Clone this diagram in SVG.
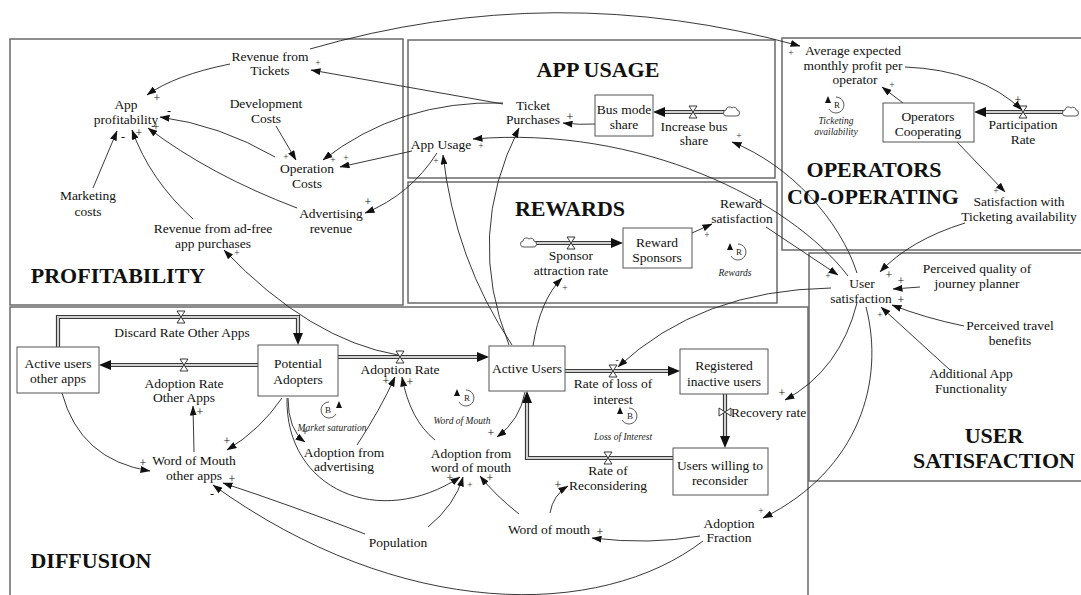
<svg xmlns="http://www.w3.org/2000/svg" width="1081" height="595" viewBox="0 0 1081 595">
<style>
.t{font-family:"Liberation Serif","Tinos","Times New Roman","DejaVu Serif",serif;font-size:13.5px;fill:#111;text-anchor:middle}
.h{font-family:"Liberation Serif","Tinos","Times New Roman","DejaVu Serif",serif;font-size:22px;font-weight:bold;fill:#111;text-anchor:middle}
.p{font-family:"Liberation Serif","Tinos","Times New Roman","DejaVu Serif",serif;font-size:12px;fill:#111;text-anchor:middle}
.ps{font-family:"Liberation Serif","Tinos","Times New Roman","DejaVu Serif",serif;font-size:9.5px;fill:#333;text-anchor:middle}
.li{font-family:"Liberation Serif","Tinos","Times New Roman","DejaVu Serif",serif;font-size:9.5px;font-style:italic;fill:#222;text-anchor:middle}
.ll{font-family:"Liberation Serif","Tinos","Times New Roman","DejaVu Serif",serif;font-size:9px;fill:#222;text-anchor:middle}
.panel{fill:none;stroke:#6a6a6a;stroke-width:1.5}
.box{fill:#fff;stroke:#555;stroke-width:1}
.c{fill:none;stroke:#222;stroke-width:0.9;marker-end:url(#a)}
.po{fill:none;stroke:#3a3a3a;stroke-width:4.2;stroke-linejoin:miter}
.pi{fill:none;stroke:#d0d0d0;stroke-width:2;stroke-linejoin:miter}
.v{fill:#fff;stroke:#222;stroke-width:0.9}
.cl{fill:#fff;stroke:#444;stroke-width:0.9}
.lc{fill:none;stroke:#333;stroke-width:0.8}
</style>
<defs>
<marker id="a" viewBox="0 0 10 7" refX="9.5" refY="3.5" markerWidth="10" markerHeight="7" markerUnits="userSpaceOnUse" orient="auto"><path d="M0,0 L10,3.5 L0,7 z" fill="#111"/></marker>
</defs>
<rect width="1081" height="595" fill="#fff"/>

<g id="panels">
<rect class="panel" x="10" y="39" width="393" height="266"/>
<rect class="panel" x="408" y="40" width="367" height="138"/>
<rect class="panel" x="408" y="182" width="369" height="121"/>
<rect class="panel" x="782" y="38" width="302" height="212"/>
<rect class="panel" x="809" y="253" width="275" height="228"/>
<path class="panel" d="M10,600 V307 H808 V600"/>
<text class="h" x="118" y="283">PROFITABILITY</text>
<text class="h" x="598" y="77">APP USAGE</text>
<text class="h" x="570" y="216">REWARDS</text>
<text class="h" x="874" y="177">OPERATORS</text>
<text class="h" x="873" y="204">CO-OPERATING</text>
<text class="h" x="994" y="443">USER</text>
<text class="h" x="994" y="468">SATISFACTION</text>
<text class="h" x="91" y="568">DIFFUSION</text>
</g>

<g id="flows">
<path class="po" d="M726,112 H662"/><path class="pi" d="M726,112 H662"/>
<polygon points="653,112 665,107 665,117" fill="#111"/>
<path class="po" d="M1066,112 H986"/><path class="pi" d="M1066,112 H986"/>
<polygon points="974,112 986,107 986,117" fill="#111"/>
<path class="po" d="M535,243 H612"/><path class="pi" d="M535,243 H612"/>
<polygon points="623,243 611,238 611,248" fill="#111"/>
<path class="po" d="M58,347 V317 H298 V334"/><path class="pi" d="M58,347 V317 H298 V334"/>
<polygon points="298,345 293,333 303,333" fill="#111"/>
<path class="po" d="M258,365 H111"/><path class="pi" d="M258,365 H111"/>
<polygon points="99,365 111,360 111,370" fill="#111"/>
<path class="po" d="M338,357 H477"/><path class="pi" d="M338,357 H477"/>
<polygon points="489,357 477,352 477,362" fill="#111"/>
<path class="po" d="M565,371 H668"/><path class="pi" d="M565,371 H668"/>
<polygon points="680,371 668,366 668,376" fill="#111"/>
<path class="po" d="M725,394 V436"/><path class="pi" d="M725,394 V436"/>
<polygon points="725,448 720,436 730,436" fill="#111"/>
<path class="po" d="M673,458 H527 V403"/><path class="pi" d="M673,458 H527 V403"/>
<polygon points="527,391 522,403 532,403" fill="#111"/>
<path class="cl" d="M727,116 a3,3 0 0,1 -1,-6 a3.5,3.5 0 0,1 6,-2 a3,3 0 0,1 5,2 a3,3 0 0,1 -1,6 z"/>
<path class="cl" d="M1066,116 a3,3 0 0,1 -1,-6 a3.5,3.5 0 0,1 6,-2 a3,3 0 0,1 5,2 a3,3 0 0,1 -1,6 z"/>
<path class="cl" d="M524,247 a3,3 0 0,1 -1,-6 a3.5,3.5 0 0,1 6,-2 a3,3 0 0,1 5,2 a3,3 0 0,1 -1,6 z"/>
<path class="v" d="M689,106 L697,106 L689,118 L697,118 Z"/>
<path class="v" d="M1019,106 L1027,106 L1019,118 L1027,118 Z"/>
<path class="v" d="M567,237 L575,237 L567,249 L575,249 Z"/>
<path class="v" d="M177,311 L185,311 L177,323 L185,323 Z"/>
<path class="v" d="M180,359 L188,359 L180,371 L188,371 Z"/>
<path class="v" d="M396,351 L404,351 L396,363 L404,363 Z"/>
<path class="v" d="M609,365 L617,365 L609,377 L617,377 Z"/>
<path class="v" d="M719,408 L719,416 L731,408 L731,416 Z"/>
<path class="v" d="M604,452 L612,452 L604,464 L612,464 Z"/>
<text class="t" x="694" y="131">Increase bus</text>
<text class="t" x="694" y="145">share</text>
<text class="t" x="1023" y="129">Participation</text>
<text class="t" x="1023" y="144">Rate</text>
<text class="t" x="571" y="260">Sponsor</text>
<text class="t" x="571" y="275">attraction rate</text>
<text class="t" x="182" y="337">Discard Rate Other Apps</text>
<text class="t" x="184" y="388">Adoption Rate</text>
<text class="t" x="184" y="402">Other Apps</text>
<text class="t" x="400" y="374">Adoption Rate</text>
<text class="t" x="613" y="388">Rate of loss of</text>
<text class="t" x="613" y="404">interest</text>
<text class="t" x="731" y="417" style="text-anchor:start">Recovery rate</text>
<text class="t" x="608" y="475">Rate of</text>
<text class="t" x="608" y="490">Reconsidering</text>
</g>

<g id="connectors">
<path class="c" d="M310,49 Q555,-22 800,46"/>
<path class="c" d="M503,104 L311,70"/>
<path class="c" d="M230,64 Q175,75 147,95"/>
<path class="c" d="M275,157 Q220,125 160,117"/>
<path class="c" d="M276,126 L296,160"/>
<path class="c" d="M503,103 Q400,100 323,160"/>
<path class="c" d="M412,151 L340,167"/>
<path class="c" d="M437,153 Q410,195 365,213"/>
<path class="c" d="M297,208 Q210,175 148,128"/>
<path class="c" d="M93,188 L117,131"/>
<path class="c" d="M193,219 Q150,180 132,130"/>
<path class="c" d="M595,124 Q580,125 563,123"/>
<path class="c" d="M848,276 C790,200 640,125 473,139"/>
<path class="c" d="M857,273 C840,220 790,165 732,142"/>
<path class="c" d="M831,288 Q700,290 618,367"/>
<path class="c" d="M857,303 Q840,370 785,400"/>
<path class="c" d="M866,307 C885,380 860,470 763,518"/>
<path class="c" d="M766,227 L838,275"/>
<path class="c" d="M965,223 Q910,240 880,272"/>
<path class="c" d="M920,287 L893,289"/>
<path class="c" d="M964,326 Q925,318 892,305"/>
<path class="c" d="M950,370 L881,307"/>
<path class="c" d="M905,67 Q980,70 1022,110"/>
<path class="c" d="M903,103 L882,87"/>
<path class="c" d="M957,142 L1005,192"/>
<path class="c" d="M533,346 Q540,300 562,278"/>
<path class="c" d="M692,233 L712,224"/>
<path class="c" d="M512,345 Q455,260 443,155"/>
<path class="c" d="M509,345 Q465,235 519,128"/>
<path class="c" d="M525,392 Q520,420 497,437"/>
<path class="c" d="M398,355 Q310,340 224,250"/>
<path class="c" d="M282,398 Q260,430 227,450"/>
<path class="c" d="M288,398 Q288,430 305,442"/>
<path class="c" d="M287,398 C285,490 380,530 460,477"/>
<path class="c" d="M62,393 Q80,460 150,471"/>
<path class="c" d="M194,452 L193,406"/>
<path class="c" d="M357,445 Q380,410 395,377"/>
<path class="c" d="M435,440 Q410,420 402,377"/>
<path class="c" d="M365,534 Q290,505 223,483"/>
<path class="c" d="M428,527 Q455,505 463,477"/>
<path class="c" d="M703,541 C600,620 400,620 213,485"/>
<path class="c" d="M700,536 Q650,545 592,538"/>
<path class="c" d="M519,514 Q495,495 480,476"/>
<path class="c" d="M550,513 Q553,495 568,486"/>
</g>

<g id="polarities">
<text class="ps" x="791" y="56">+</text>
<text class="ps" x="318" y="66">+</text>
<text class="p" x="157" y="102">+</text>
<text class="p" x="169" y="115">-</text>
<text class="ps" x="286" y="160">+</text>
<text class="ps" x="333" y="163">+</text>
<text class="ps" x="346" y="161">+</text>
<text class="p" x="368" y="206">+</text>
<text class="p" x="156" y="131">+</text>
<text class="p" x="123" y="141">-</text>
<text class="p" x="139" y="137">+</text>
<text class="p" x="570" y="121">+</text>
<text class="ps" x="481" y="149">+</text>
<text class="ps" x="739" y="139">+</text>
<text class="ps" x="617" y="363">-</text>
<text class="p" x="782" y="397">+</text>
<text class="ps" x="761" y="514">+</text>
<text class="ps" x="828" y="279">+</text>
<text class="p" x="889" y="279">+</text>
<text class="p" x="901" y="285">+</text>
<text class="p" x="901" y="304">+</text>
<text class="ps" x="880" y="318">+</text>
<text class="p" x="1018" y="104">+</text>
<text class="ps" x="892" y="88">+</text>
<text class="ps" x="996" y="194">+</text>
<text class="ps" x="565" y="291">+</text>
<text class="ps" x="707" y="238">+</text>
<text class="ps" x="436" y="164">+</text>
<text class="p" x="491" y="437">+</text>
<text class="ps" x="237" y="256">+</text>
<text class="p" x="227" y="445">+</text>
<text class="p" x="305" y="436">+</text>
<text class="p" x="450" y="482">+</text>
<text class="p" x="143" y="467">+</text>
<text class="p" x="200" y="416">+</text>
<text class="p" x="386" y="385">+</text>
<text class="p" x="410" y="386">+</text>
<text class="p" x="232" y="483">+</text>
<text class="ps" x="470" y="488">+</text>
<text class="p" x="212" y="498">-</text>
<text class="p" x="600" y="536">+</text>
<text class="p" x="490" y="482">+</text>
<text class="p" x="558" y="489">+</text>
</g>

<g id="loops">
<g id="loop-ticketing">
<path class="lc" d="M836,97 A8,8 0 1,1 829,109"/>
<polygon points="828,96 825,103 831,103" fill="#111"/>
<text class="ll" x="837" y="108">R</text>
<text class="li" x="836" y="124">Ticketing</text>
<text class="li" x="836" y="135">availability</text>
</g>
<g id="loop-rewards">
<path class="lc" d="M738,244 A8,8 0 1,1 731,256"/>
<polygon points="730,243 727,250 733,250" fill="#111"/>
<text class="ll" x="739" y="255">R</text>
<text class="li" x="735" y="276">Rewards</text>
</g>
<g id="loop-market">
<path class="lc" d="M329,402 A8,8 0 1,0 336,414"/>
<polygon points="339,401 336,408 342,408" fill="#111"/>
<text class="ll" x="328" y="413">B</text>
<text class="li" x="332" y="431">Market saturation</text>
</g>
<g id="loop-wom">
<path class="lc" d="M466,390 A8,8 0 1,1 459,402"/>
<polygon points="457,389 454,396 460,396" fill="#111"/>
<text class="ll" x="467" y="401">R</text>
<text class="li" x="462" y="424">Word of Mouth</text>
</g>
<g id="loop-interest">
<path class="lc" d="M629,408 A8,8 0 1,1 622,420"/>
<polygon points="620,407 617,414 623,414" fill="#111"/>
<text class="ll" x="630" y="419">B</text>
<text class="li" x="623" y="440">Loss of Interest</text>
</g>
</g>

<g id="n-revenue-tickets"><text class="t" x="270" y="61">Revenue from</text><text class="t" x="270" y="75">Tickets</text></g>
<g id="n-app-profitability"><text class="t" x="126" y="109">App</text><text class="t" x="126" y="124">profitability</text></g>
<g id="n-development-costs"><text class="t" x="266" y="108">Development</text><text class="t" x="266" y="123">Costs</text></g>
<g id="n-operation-costs"><text class="t" x="307" y="173">Operation</text><text class="t" x="307" y="188">Costs</text></g>
<g id="n-marketing-costs"><text class="t" x="88" y="200">Marketing</text><text class="t" x="88" y="216">costs</text></g>
<g id="n-revenue-adfree"><text class="t" x="213" y="233">Revenue from ad-free</text><text class="t" x="213" y="248">app purchases</text></g>
<g id="n-advertising-revenue"><text class="t" x="331" y="218">Advertising</text><text class="t" x="331" y="233">revenue</text></g>
<g id="n-app-usage"><text class="t" x="441" y="149">App Usage</text></g>
<g id="n-ticket-purchases"><text class="t" x="533" y="110">Ticket</text><text class="t" x="533" y="124">Purchases</text></g>
<g id="n-bus-mode-share"><rect class="box" x="595" y="95" width="58" height="41"/><text class="t" x="624" y="114">Bus mode</text><text class="t" x="624" y="129">share</text></g>
<g id="n-average-profit"><text class="t" x="853" y="55">Average expected</text><text class="t" x="853" y="70">monthly profit per</text><text class="t" x="855" y="84">operator</text></g>
<g id="n-operators-cooperating"><rect class="box" x="883" y="103" width="91" height="39"/><text class="t" x="928" y="121">Operators</text><text class="t" x="928" y="136">Cooperating</text></g>
<g id="n-satisfaction-ticketing"><text class="t" x="1019" y="206">Satisfaction with</text><text class="t" x="1019" y="221">Ticketing availability</text></g>
<g id="n-reward-sponsors"><rect class="box" x="623" y="228" width="69" height="40"/><text class="t" x="657" y="247">Reward</text><text class="t" x="657" y="262">Sponsors</text></g>
<g id="n-reward-satisfaction"><text class="t" x="741" y="208">Reward</text><text class="t" x="742" y="223">satisfaction</text></g>
<g id="n-user-satisfaction"><text class="t" x="862" y="288">User</text><text class="t" x="861" y="303">satisfaction</text></g>
<g id="n-journey-planner"><text class="t" x="977" y="273">Perceived quality of</text><text class="t" x="977" y="288">journey planner</text></g>
<g id="n-travel-benefits"><text class="t" x="1010" y="330">Perceived travel</text><text class="t" x="1010" y="345">benefits</text></g>
<g id="n-additional-functionality"><text class="t" x="971" y="378">Additional App</text><text class="t" x="971" y="393">Functionality</text></g>
<g id="n-active-users-other"><rect class="box" x="17" y="347" width="82" height="46"/><text class="t" x="58" y="368">Active users</text><text class="t" x="58" y="383">other apps</text></g>
<g id="n-potential-adopters"><rect class="box" x="258" y="345" width="80" height="51"/><text class="t" x="298" y="368">Potential</text><text class="t" x="298" y="384">Adopters</text></g>
<g id="n-active-users"><rect class="box" x="489" y="346" width="76" height="45"/><text class="t" x="527" y="373">Active Users</text></g>
<g id="n-registered-inactive"><rect class="box" x="680" y="349" width="88" height="45"/><text class="t" x="724" y="370">Registered</text><text class="t" x="724" y="386">inactive users</text></g>
<g id="n-users-willing"><rect class="box" x="673" y="448" width="95" height="47"/><text class="t" x="720" y="470">Users willing to</text><text class="t" x="720" y="485">reconsider</text></g>
<g id="n-wom-other"><text class="t" x="194" y="465">Word of Mouth</text><text class="t" x="194" y="480">other apps</text></g>
<g id="n-adoption-advertising"><text class="t" x="344" y="457">Adoption from</text><text class="t" x="344" y="471">advertising</text></g>
<g id="n-adoption-wom"><text class="t" x="471" y="458">Adoption from</text><text class="t" x="471" y="472">word of mouth</text></g>
<g id="n-population"><text class="t" x="398" y="547">Population</text></g>
<g id="n-word-of-mouth"><text class="t" x="549" y="534">Word of mouth</text></g>
<g id="n-adoption-fraction"><text class="t" x="729" y="528">Adoption</text><text class="t" x="729" y="542">Fraction</text></g>
</svg>
